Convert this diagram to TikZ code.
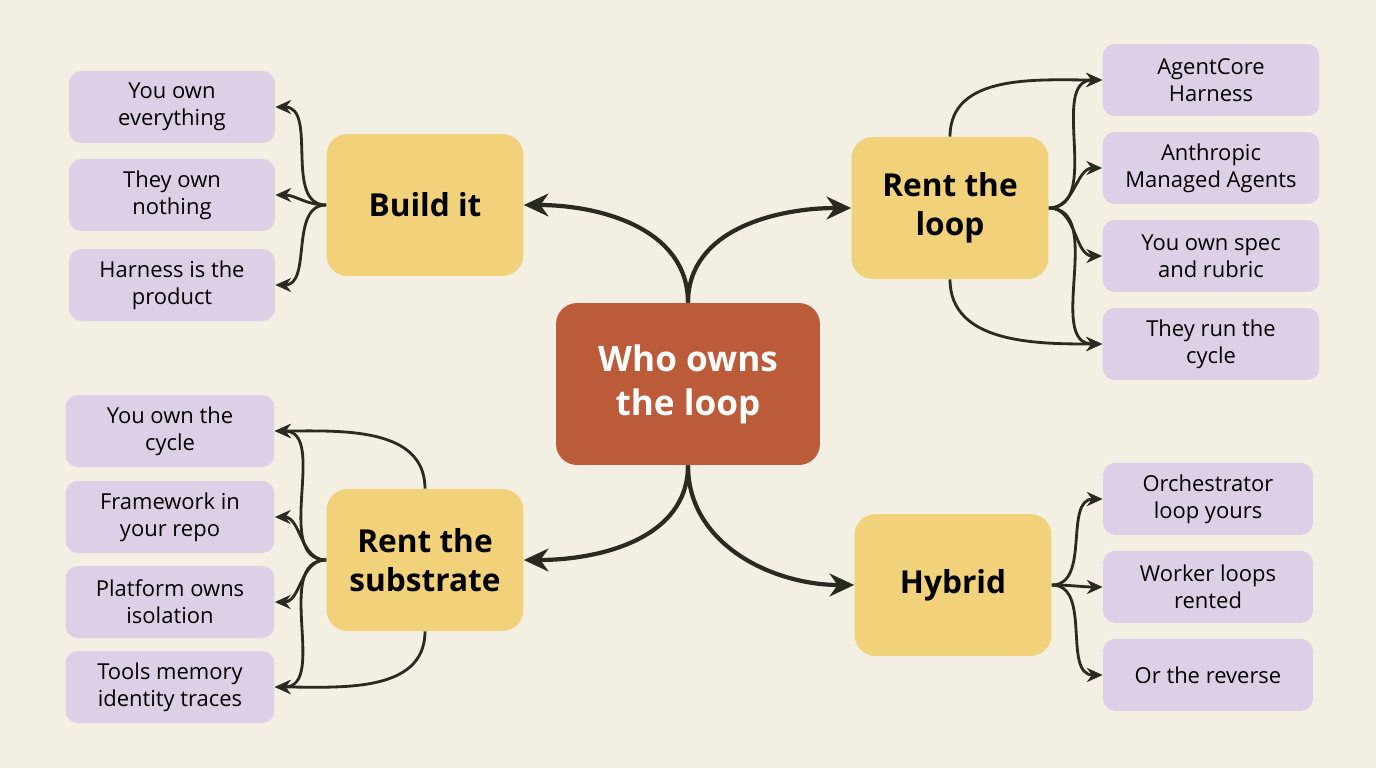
\documentclass[tikz,border=0pt]{standalone}
\usepackage{fontspec}
\setmainfont{Open Sans}
\usetikzlibrary{arrows.meta}
\definecolor{bgc}{HTML}{F3EFE3}
\definecolor{rootc}{HTML}{BC5B3A}
\definecolor{hubc}{HTML}{F1D27A}
\definecolor{leafc}{HTML}{DDD0E6}
\definecolor{linec}{HTML}{2A2A20}
\begin{document}
\begin{tikzpicture}[x=0.02cm,y=-0.02cm,
    root/.style={fill=rootc,rounded corners=12pt,minimum width=5.28cm,minimum height=3.24cm,align=center,text=white,font=\bfseries\fontsize{20}{25}\selectfont},
    hub/.style={fill=hubc,rounded corners=12pt,minimum width=3.94cm,minimum height=2.84cm,align=center,font=\bfseries\fontsize{18}{22}\selectfont},
    leaf/.style={fill=leafc,rounded corners=7pt,minimum height=1.44cm,align=center,font=\fontsize{12.5}{15.5}\selectfont},
    big/.style={draw=linec,line width=2.4pt,-{Stealth[length=14pt,width=13pt]}},
    small/.style={draw=linec,line width=1.6pt,-{Stealth[length=9pt,width=8pt]}}]

    % Background
    \fill[bgc] (0,0) rectangle (1376,768);

    % Root and hubs
    \node[root] (root) at (688,384) {Who owns\\the loop};
    \node[hub] (build) at (425,205) {Build it};
    \node[hub] (rloop) at (950,208) {Rent the\\loop};
    \node[hub] (rsub) at (425,560) {Rent the\\substrate};
    \node[hub] (hyb) at (953,585) {Hybrid};

    % Leaves
    \foreach \n/\y/\t in {b1/107/{You own\\everything},b2/195/{They own\\nothing},b3/285/{Harness is the\\product}}
        \node[leaf,minimum width=4.12cm] (\n) at (172,\y) {\t};
    \foreach \n/\y/\t in {s1/431/{You own the\\cycle},s2/517/{Framework in\\your repo},s3/602/{Platform owns\\isolation},s4/687/{Tools memory\\identity traces}}
        \node[leaf,minimum width=4.18cm] (\n) at (170,\y) {\t};
    \foreach \n/\y/\t in {l1/80/{AgentCore\\Harness},l2/168/{Anthropic\\Managed Agents},l3/256/{You own spec\\and rubric},l4/344/{They run the\\cycle}}
        \node[leaf,minimum width=4.34cm] (\n) at (1211,\y) {\t};
    \foreach \n/\y/\t in {h1/499/{Orchestrator\\loop yours},h2/587/{Worker loops\\rented},h3/675/{Or the reverse}}
        \node[leaf,minimum width=4.2cm] (\n) at (1208,\y) {\t};

    % Root to hubs
    \draw[big] (root.north) to[out=90,in=0] (build.east);
    \draw[big] (root.north) to[out=90,in=180] (rloop.west);
    \draw[big] (root.south) to[out=-90,in=0] (rsub.east);
    \draw[big] (root.south) to[out=-90,in=180] (hyb.west);

    % Hubs to leaves
    \foreach \n in {b1,b2,b3}
        \draw[small] (build.west) to[out=180,in=0] (\n.east);
    \foreach \n in {s1,s2,s3,s4}
        \draw[small] (rsub.west) to[out=180,in=0] (\n.east);
    \draw[small] (rsub.north) to[out=90,in=0] (s1.east);
    \draw[small] (rsub.south) to[out=-90,in=0] (s4.east);
    \foreach \n in {l1,l2,l3,l4}
        \draw[small] (rloop.east) to[out=0,in=180] (\n.west);
    \draw[small] (rloop.north) to[out=90,in=180] (l1.west);
    \draw[small] (rloop.south) to[out=-90,in=180] (l4.west);
    \foreach \n in {h1,h2,h3}
        \draw[small] (hyb.east) to[out=0,in=180] (\n.west);

\end{tikzpicture}
\end{document}
